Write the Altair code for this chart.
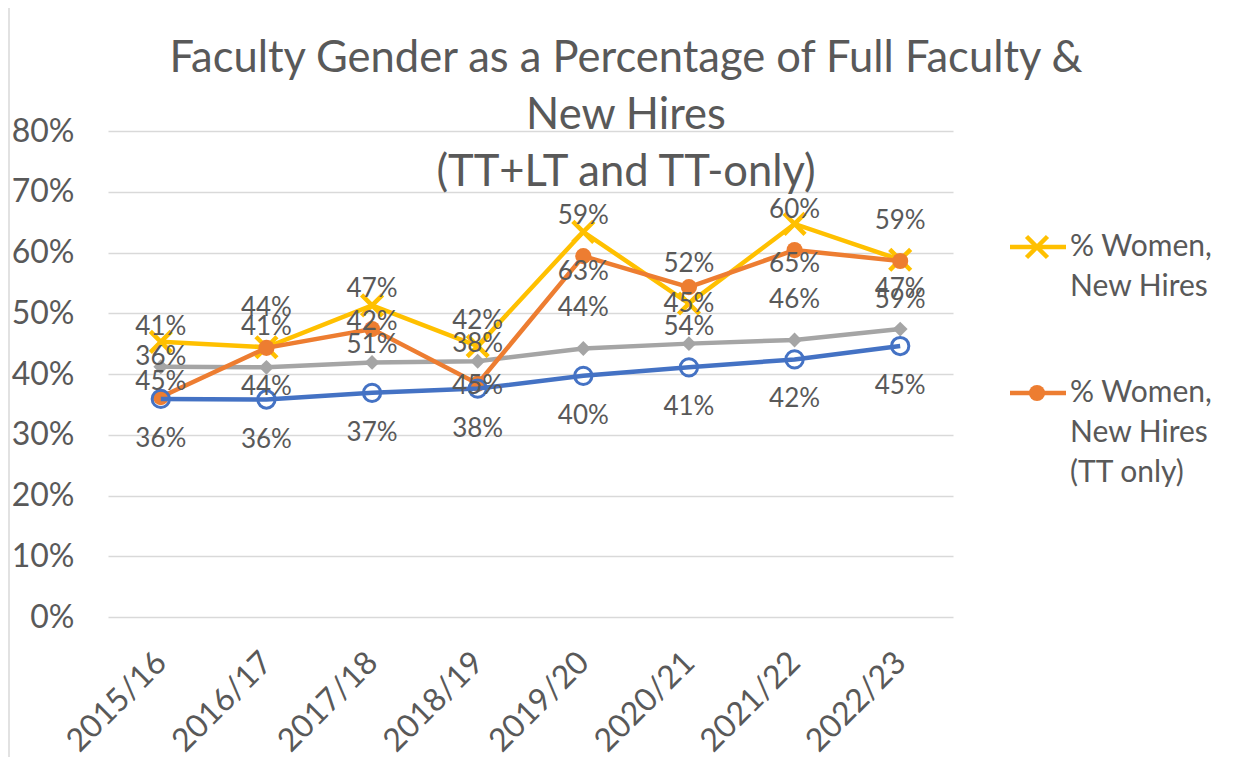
import altair as alt
import pandas as pd

# ---- data ----
years = ["2015/16", "2016/17", "2017/18", "2018/19", "2019/20", "2020/21", "2021/22", "2022/23"]
new_hires = [45.3, 44.4, 51.3, 44.6, 63.4, 51.6, 64.7, 58.8]          # yellow, x markers
new_hires_tt = [36.2, 44.3, 47.4, 38.4, 59.4, 54.3, 60.4, 58.6]       # orange, filled circles
faculty_all = [41.2, 41.1, 41.9, 42.1, 44.2, 45.0, 45.6, 47.4]        # gray, diamonds
faculty_tt = [35.9, 35.8, 36.9, 37.6, 39.7, 41.1, 42.4, 44.6]         # blue, open circles

series_names = ["% Women, New Hires", "% Women, New Hires (TT only)",
                "% Women, Full Faculty", "% Women, Full Faculty (TT only)"]
series_colors = ["#FFC000", "#ED7D31", "#A5A5A5", "#4472C4"]

title_lines = ["Faculty Gender as a Percentage of Full Faculty &", "New Hires", "(TT+LT and TT-only)"]
legend_lines = [["% Women,", "New Hires"], ["% Women,", "New Hires", "(TT only)"]]

# ---- table ----
rows = []
for i, yr in enumerate(years):
    nh, nt = new_hires[i], new_hires_tt[i]
    rows.append(dict(series=series_names[0], year=yr, value=nh, side="below" if nh >= nt else "above"))
    rows.append(dict(series=series_names[1], year=yr, value=nt, side="above" if nh >= nt else "below"))
    rows.append(dict(series=series_names[2], year=yr, value=faculty_all[i], side="above"))
    rows.append(dict(series=series_names[3], year=yr, value=faculty_tt[i], side="below"))
df = pd.DataFrame(rows)
df["label"] = [f"{int(round(v))}%" for v in df["value"]]

FONT = "Lato"
TXT = "#595959"
GRID = "#D9D9D9"
W, H = 845, 486

x_enc = alt.X("year:N", sort=years, scale=alt.Scale(type="point", padding=0.5),
              axis=alt.Axis(title=None, labelAngle=-45, labelAlign="right", labelBaseline="middle",
                            labelFontSize=32, labelColor=TXT, labelFont=FONT, labelPadding=40,
                            ticks=False, domain=False, grid=False))
y_enc = alt.Y("value:Q", scale=alt.Scale(domain=[0, 80]),
              axis=alt.Axis(title=None, values=list(range(0, 81, 10)), labelExpr="datum.value + '%'",
                            labelFontSize=32, labelColor=TXT, labelFont=FONT, labelPadding=34,
                            ticks=False, domain=False, gridColor=GRID, gridWidth=1.3))

base = alt.Chart(df).encode(x=x_enc, y=y_enc)

point_styles = {
    series_names[2]: dict(shape="diamond", filled=True, size=220, opacity=1),
    series_names[0]: dict(shape="M-1,-1L1,1M-1,1L1,-1", filled=False, strokeWidth=4.5, size=440, opacity=1),
    series_names[1]: dict(shape="circle", filled=True, size=260, opacity=1),
    series_names[3]: dict(shape="circle", filled=False, strokeWidth=3, size=300, opacity=1),
}
color_of = dict(zip(series_names, series_colors))

layers = []
for name in [series_names[2], series_names[0], series_names[1], series_names[3]]:
    sub = base.transform_filter(alt.datum.series == name)
    layers.append(sub.mark_line(color=color_of[name], strokeWidth=4.5))
    layers.append(sub.mark_point(color=color_of[name], **point_styles[name]))

for side, dy in [("above", -40), ("below", 40)]:
    layers.append(base.transform_filter(alt.datum.side == side)
                  .mark_text(dy=dy, fontSize=26, font=FONT, color=TXT, baseline="middle")
                  .encode(text="label:N"))

# ---- title (three centred lines) ----
for i, line in enumerate(title_lines):
    layers.append(alt.Chart(pd.DataFrame({"t": [line]}))
                  .mark_text(fontSize=43.5, font=FONT, color=TXT, align="center", baseline="alphabetic")
                  .encode(x=alt.value(518), y=alt.value(-59 + 57 * i), text="t:N"))

# ---- legend (only two entries visible) ----
legend_y = [116, 262]
legend_series = [series_names[0], series_names[1]]
one = pd.DataFrame({"a": [0]})
for k, name in enumerate(legend_series):
    ly = legend_y[k]
    layers.append(alt.Chart(one).mark_rule(color=color_of[name], strokeWidth=4.5)
                  .encode(x=alt.value(902), x2=alt.value(958), y=alt.value(ly)))
    layers.append(alt.Chart(one).mark_point(color=color_of[name], **point_styles[name])
                  .encode(x=alt.value(929), y=alt.value(ly)))
    for j, line in enumerate(legend_lines[k]):
        layers.append(alt.Chart(pd.DataFrame({"t": [line]}))
                      .mark_text(fontSize=30, font=FONT, color=TXT, align="left", baseline="middle")
                      .encode(x=alt.value(962), y=alt.value(ly + 40 * j), text="t:N"))

# chart frame edge on the left
layers.append(alt.Chart(one).mark_rule(color=GRID, strokeWidth=1.5)
              .encode(x=alt.value(-99), y=alt.value(-123), y2=alt.value(H + 140)))

chart = alt.layer(*layers).properties(
    width=W, height=H,
    padding={"left": 100, "top": 123, "right": 270, "bottom": 140},
    autosize=alt.AutoSizeParams(type="none"),
).configure_view(stroke=None)

chart.save("out.html", embed_options={"renderer": "svg", "actions": False})
